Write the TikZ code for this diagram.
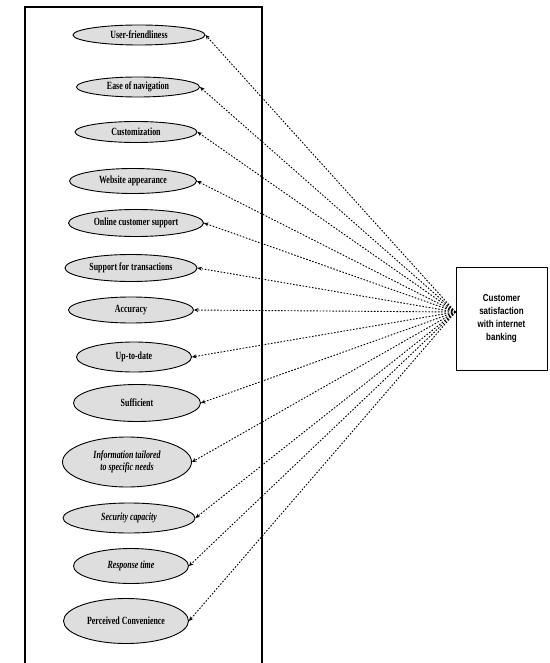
\documentclass[tikz,border=0pt]{standalone}
\usepackage{fontspec}
\usepackage{tikz}
\usetikzlibrary{shapes.geometric, arrows.meta}
\newfontfamily\ellfont[FakeStretch=0.72]{Liberation Serif}
\newfontfamily\boxfont[FakeStretch=0.8]{Liberation Sans}
\definecolor{SpeckGray}{RGB}{222,222,222}

\begin{document}
\begin{tikzpicture}[x=1pt,y=-1pt,
  factor/.style={ellipse, draw=black, line width=0.9pt, fill=SpeckGray, inner sep=0pt,
    font=\ellfont\bfseries\fontsize{11}{11.5}\selectfont, align=center},
  outcome/.style={draw=black, line width=1pt, minimum width=91, minimum height=103,
    font=\boxfont\bfseries\fontsize{10}{13}\selectfont, align=center},
  link/.style={dash pattern=on 1.6pt off 1.6pt, line width=0.9pt, -{Stealth[length=4.5pt,width=4pt]}}]
  \path[use as bounding box] (0,0) rectangle (549,663);

  % frame round the factors
  \draw[line width=1.3pt] (25,670) |- (262,7) -- (262,670);

  % quality factors
  \foreach \i/\x/\y/\w/\h/\txt in {
      1/139/35/132/20/{User-friendliness},
      2/138/87/123/20/{Ease of navigation},
      3/136/132/122/21/{Customization},
      4/133/181/127/25/{Website appearance},
      5/136/223/135/27/{Online customer support},
      6/131/268/132/27/{Support for transactions},
      7/131/310/125/26/{Accuracy},
      8/134/357/115/30/{Up-to-date},
      9/137/403/127/37/{Sufficient},
      10/127/462/129/50/{\itshape Information tailored\\\itshape to specific needs},
      11/129/518/132/30/{\itshape Security capacity},
      12/131/566/115/35/{\itshape Response time},
      13/126/621/125/45/{Perceived Convenience}}{
    \node[factor, minimum width=\w, minimum height=\h] (e\i) at (\x,\y) {\txt};
  }

  % outcome
  \node[outcome] (sat) at (501.5,318.5) {Customer\\satisfaction\\with internet\\banking};
  \coordinate (fan) at (sat.west |- 0,312);

  \foreach \i in {1,...,13}
    \draw[link] (fan) -- (e\i.east);
\end{tikzpicture}
\end{document}
